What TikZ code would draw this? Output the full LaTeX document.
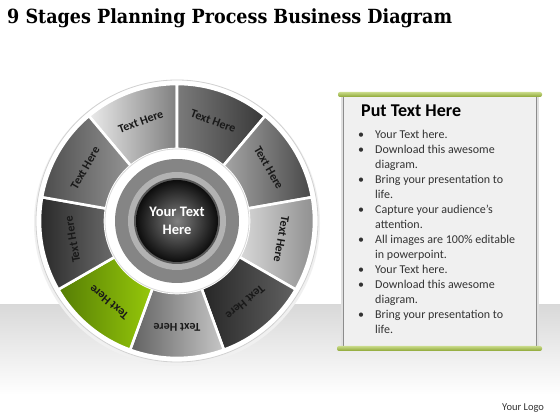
\documentclass[tikz,border=0pt]{standalone}
\usepackage{fontspec}
\setmainfont{Carlito}
\newfontfamily\titlefont{DejaVu Serif}
\usetikzlibrary{positioning}
\definecolor{leafgreen}{RGB}{150,200,10}
\definecolor{mossgreen}{RGB}{85,125,5}
\definecolor{barcolor}{RGB}{165,195,60}
\tikzset{segment/.style={draw=white, line width=2.6pt}}
\tikzset{seglabel/.style={font=\bfseries\fontsize{12}{13}\selectfont, text=black!90}}
\tikzset{bullettext/.style={anchor=base west, align=left, inner sep=0pt, font=\fontsize{12}{15}\selectfont, text=black!80}}

\begin{document}
\begin{tikzpicture}[x=1pt, y=1pt]
\useasboundingbox (0,0) rectangle (560,420);
\fill[white] (0,0) rectangle (560,420);
\shade[top color=black!15, bottom color=white] (0,25) rectangle (560,115);

\node[anchor=base west, inner sep=0pt, xscale=0.9, font=\titlefont\bfseries\fontsize{19.5}{22}\selectfont] (title) at (7,396) {9 Stages Planning Process Business Diagram};

% wheel
\begin{scope}[shift={(177,199)}]
\fill[black!6] (0,-2) circle (143);
\filldraw[white, draw=black!18, line width=0.8pt] (0,0) circle (141);
\foreach \a/\l/\r [count=\i] in {110/black!8/black!50, 70/black!52/black!78, 30/black!35/black!72, -10/black!15/black!45, -50/black!85/black!62, -90/black!62/black!22, 230/mossgreen/leafgreen, 190/black!85/black!58, 150/black!70/black!42} {
  \shadedraw[segment, left color=\l, right color=\r] (\a-20:72) -- (\a-20:137) arc[start angle=\a-20, end angle=\a+20, radius=137] -- (\a+20:72) arc[start angle=\a+20, end angle=\a-20, radius=72] -- cycle;
  \node[seglabel, rotate=\a-90] (seg\i) at (\a:106) {Text Here};
}
% hub
\filldraw[white, draw=black!15, line width=0.8pt] (0,0) circle (72);
\fill[black!48] (0,0) circle (62);
\fill[black!30] (0,0) circle (49);
\fill[black!65] (0,0) circle (43);
\shade[inner color=black!50, outer color=black!95] (0,0) circle (41);
\node[align=center, text=white, font=\bfseries\fontsize{14.5}{18}\selectfont] (hub) at (0,0) {Your Text\\Here};
\end{scope}

% text panel
\fill[black!12] (341,70) rectangle (539,326);
\fill[black!6] (343,72) rectangle (537,326);
\draw[black!45, line width=1.5pt] (343.5,72) -- (343.5,326) (536.5,72) -- (536.5,326);
\shade[top color=barcolor!60, bottom color=barcolor!85!black, rounded corners=2pt] (338,323) rectangle (542,328);
\shade[top color=barcolor!60, bottom color=barcolor!85!black, rounded corners=2pt] (337,69) rectangle (542,74);
\node[anchor=base west, inner sep=0pt, font=\bfseries\fontsize{18}{20}\selectfont] (head) at (361,303) {Put Text Here};
\foreach \n/\m/\t in {0/0/{Your Text here.}, 1/2/{Download this awesome\\diagram.}, 3/4/{Bring your presentation to\\life.}, 5/6/{Capture your audience’s\\attention.}, 7/8/{All images are 100\% editable\\in powerpoint.}, 9/9/{Your Text here.}, 10/11/{Download this awesome\\diagram.}, 12/13/{Bring your presentation to\\life.}} {
  \node[bullettext] (dot\n) at (358,281-15*\n) {\textbullet};
  \node[bullettext] (item\n) at (375,281-15*\m) {\t};
}

\node[anchor=base west, inner sep=0pt, font=\fontsize{10.5}{12}\selectfont, text=black!80] (logo) at (502,9) {Your Logo};
\end{tikzpicture}
\end{document}
